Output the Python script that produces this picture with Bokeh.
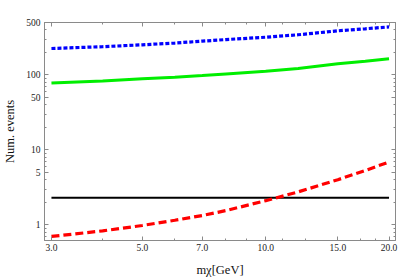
from bokeh.plotting import figure
from bokeh.models import LogAxis, FixedTicker, NumeralTickFormatter, Range1d
from bokeh.embed import file_html
from bokeh.resources import INLINE

# ---- data ----
mass = [3, 4, 5, 6, 7, 8, 10, 12, 15, 17.5, 20]
blue_dotted = [225, 238, 252, 266, 282, 296, 318, 343, 387, 412, 437]
green_solid = [78, 83, 89, 93, 98, 103, 112, 122, 141, 152, 164]
red_dashed = [0.70, 0.83, 0.98, 1.15, 1.33, 1.55, 2.1, 2.75, 4.0, 5.3, 6.9]
black_mass = [3, 20]
black_level = [2.3, 2.3]

x_ticks = [3, 5, 7, 10, 15, 20]
x_minor = [4, 6, 8, 9, 11, 12.5, 17, 18.5]
y_ticks = [1, 5, 10, 50, 100, 500]
y_minor = [0.7, 0.8, 0.9, 2, 3, 4, 6, 7, 8, 9, 20, 30, 40, 60, 70, 80, 90,
           200, 300, 400]

x_title = "mχ[GeV]"
y_title = "Num. events"

SERIF = "Liberation Serif"
FRAME = "#8a8a8a"

p = figure(width=417, height=280, x_axis_type="log", y_axis_type="log",
           x_range=Range1d(2.885, 20.74), y_range=Range1d(0.618, 500),
           output_backend="svg", toolbar_location=None,
           min_border_left=41, min_border_right=22, min_border_top=22,
           min_border_bottom=40)
p.background_fill_color = "white"
p.border_fill_color = "white"
p.outline_line_color = FRAME
p.grid.visible = False

xt = FixedTicker(ticks=x_ticks, minor_ticks=x_minor)
yt = FixedTicker(ticks=y_ticks, minor_ticks=y_minor)


def style(ax, show_labels=True, ticks=()):
    ax.axis_line_color = FRAME
    ax.major_tick_line_color = FRAME
    ax.minor_tick_line_color = FRAME
    ax.major_tick_in = 4
    ax.major_tick_out = 0
    ax.minor_tick_in = 2
    ax.minor_tick_out = 0
    ax.major_label_text_font = SERIF
    ax.major_label_text_color = "#222222"
    ax.major_label_text_font_size = "9.5px"
    ax.axis_label_text_font = SERIF
    ax.axis_label_text_font_style = "normal"
    ax.axis_label_text_font_size = "12.5px"
    ax.axis_label_text_color = "#111111"
    if not show_labels:
        ax.major_label_overrides = {t: "" for t in ticks}
        ax.major_label_standoff = 0


p.xaxis.ticker = xt
p.yaxis.ticker = yt
p.xaxis.formatter = NumeralTickFormatter(format="0.0")
p.yaxis.formatter = NumeralTickFormatter(format="0")
style(p.xaxis[0])
style(p.yaxis[0])
p.xaxis.major_label_standoff = 3
p.yaxis.major_label_standoff = 4

p.yaxis.axis_label = y_title
p.yaxis.axis_label_standoff = 6
p.xaxis.axis_label = x_title
p.xaxis.axis_label_standoff = 9

top = LogAxis(ticker=xt)
right = LogAxis(ticker=yt)
style(top, False, x_ticks)
style(right, False, y_ticks)
p.add_layout(top, "above")
p.add_layout(right, "right")

p.line(mass, blue_dotted, line_color="#0000ff", line_width=3.2,
       line_dash="4 2")
p.line(mass, green_solid, line_color="#00ee00", line_width=3)
p.line(black_mass, black_level, line_color="black", line_width=2)
p.line(mass, red_dashed, line_color="#ff0000", line_width=3.2,
       line_dash="8 4")

open("out.html", "w").write(file_html(p, INLINE))
